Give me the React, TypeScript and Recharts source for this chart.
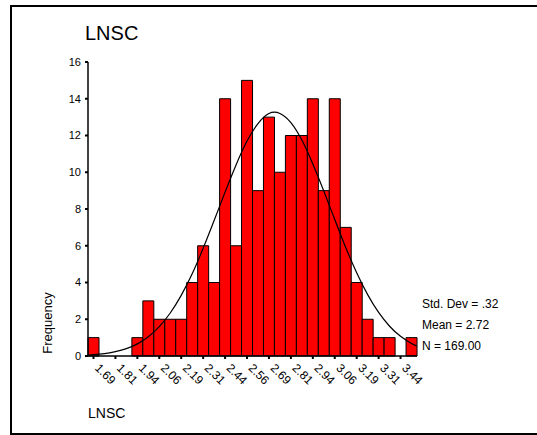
import React from 'react';
import { ComposedChart, Bar, Line, XAxis, YAxis } from 'recharts';

// bin labels as SPSS prints them (bin width .0625)
const binLabels = [
  '1.69', '1.75', '1.81', '1.88', '1.94', '2.00', '2.06', '2.13', '2.19', '2.25',
  '2.31', '2.38', '2.44', '2.50', '2.56', '2.63', '2.69', '2.75', '2.81', '2.88',
  '2.94', '3.00', '3.06', '3.13', '3.19', '3.25', '3.31', '3.38', '3.44', '3.50',
];
const counts = [1, 0, 0, 0, 1, 3, 2, 2, 2, 4, 6, 4, 14, 6, 15, 9, 13, 10, 12, 12, 14, 9, 14, 7, 4, 2, 1, 1, 0, 1];

// normal curve (plot edges + bin centres)
const curveX = [
  1.65625, 1.6875, 1.75, 1.8125, 1.875, 1.9375, 2.0, 2.0625, 2.125, 2.1875, 2.25,
  2.3125, 2.375, 2.4375, 2.5, 2.5625, 2.625, 2.6875, 2.75, 2.8125, 2.875,
  2.9375, 3.0, 3.0625, 3.125, 3.1875, 3.25, 3.3125, 3.375, 3.4375, 3.5, 3.53125,
];
const curveY = [
  0.05, 0.07, 0.13, 0.24, 0.4, 0.66, 1.05, 1.6, 2.34, 3.3, 4.47,
  5.86, 7.37, 8.92, 10.4, 11.7, 12.65, 13.2, 13.2, 12.7, 11.75,
  10.45, 8.98, 7.43, 5.91, 4.53, 3.34, 2.37, 1.62, 1.07, 0.68, 0.55,
];
const yTicks = [0, 2, 4, 6, 8, 10, 12, 14, 16];
const stats = ['Std. Dev = .32', 'Mean = 2.72', 'N = 169.00'];

const FONT = '"Liberation Sans", Arial, sans-serif';

const histData = binLabels.map((label, i) => ({ label, count: counts[i] }));
const curveData = curveX.map((x, i) => ({ x, y: curveY[i] }));

const SlantTick = (props: any) => {
  const { x, y, payload } = props;
  return (
    <g transform={`translate(${x},${y})`}>
      <text
        x={0}
        y={0}
        dx={6}
        dy={5}
        transform="rotate(45)"
        textAnchor="start"
        fontSize={12}
        fontFamily={FONT}
        fill="#000"
      >
        {payload.value}
      </text>
    </g>
  );
};

export default function App() {
  return (
    <div
      style={{
        position: 'absolute',
        left: 0,
        top: 0,
        width: 537,
        height: 435,
        background: '#fff',
        fontFamily: FONT,
      }}
    >
      {/* outer frame, open to the right */}
      <div
        style={{
          position: 'absolute',
          left: 10,
          top: 5,
          width: 527,
          height: 426,
          borderLeft: '2px solid #000',
          borderTop: '2px solid #000',
          borderBottom: '2px solid #000',
        }}
      />
      <div style={{ position: 'absolute', left: 85, top: 22, fontSize: 20, color: '#000' }}>LNSC</div>
      <div style={{ position: 'absolute', left: 88, top: 405, fontSize: 14, color: '#000' }}>LNSC</div>
      <div
        style={{
          position: 'absolute',
          left: 47,
          top: 323,
          fontSize: 13,
          color: '#000',
          transform: 'translate(-50%, -50%) rotate(-90deg)',
          whiteSpace: 'nowrap',
        }}
      >
        Frequency
      </div>
      {stats.map((s, i) => (
        <div
          key={s}
          style={{ position: 'absolute', left: 422, top: 297 + i * 21, fontSize: 12, color: '#000', whiteSpace: 'nowrap' }}
        >
          {s}
        </div>
      ))}

      <ComposedChart
        width={537}
        height={435}
        data={histData}
        margin={{ top: 62, right: 120, bottom: 29, left: 28 }}
        barCategoryGap={0}
        barGap={0}
        style={{ position: 'absolute', left: 0, top: 0 }}
      >
        <XAxis
          xAxisId="cat"
          dataKey="label"
          interval={1}
          tickSize={3}
          tickMargin={2}
          height={50}
          axisLine={{ stroke: '#000', strokeWidth: 1.5 }}
          tickLine={{ stroke: '#000', strokeWidth: 2 }}
          tick={<SlantTick />}
        />
        <XAxis
          xAxisId="num"
          dataKey="x"
          type="number"
          domain={[1.65625, 3.53125]}
          allowDataOverflow
          hide
        />
        <XAxis
          xAxisId="top"
          dataKey="label"
          orientation="top"
          height={0}
          tick={false}
          tickLine={false}
          axisLine={{ stroke: '#000', strokeWidth: 1.5 }}
        />
        <YAxis
          domain={[0, 16]}
          ticks={yTicks}
          width={60}
          tickSize={3}
          tickMargin={4}
          axisLine={{ stroke: '#000', strokeWidth: 1.5 }}
          tickLine={{ stroke: '#000', strokeWidth: 2 }}
          tick={{ fontSize: 11, fill: '#000', fontFamily: FONT }}
        />
        <YAxis
          yAxisId="right"
          orientation="right"
          domain={[0, 16]}
          width={0}
          tick={false}
          tickLine={false}
          axisLine={{ stroke: '#000', strokeWidth: 1.5 }}
        />
        <Bar
          xAxisId="cat"
          dataKey="count"
          fill="#ff0000"
          stroke="#000"
          strokeWidth={1}
          isAnimationActive={false}
        />
        <Line
          xAxisId="num"
          data={curveData}
          dataKey="y"
          type="natural"
          stroke="#000"
          strokeWidth={1.2}
          dot={false}
          activeDot={false}
          isAnimationActive={false}
        />
      </ComposedChart>
    </div>
  );
}
